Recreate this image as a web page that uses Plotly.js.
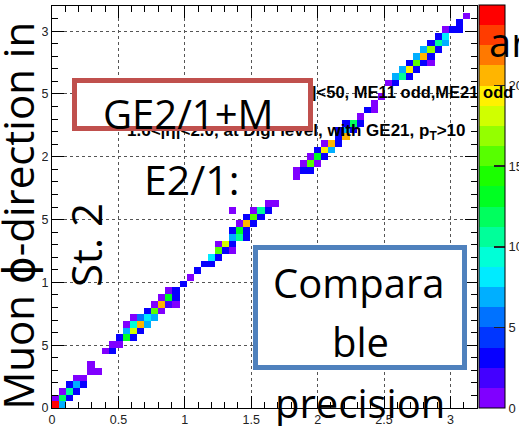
<!DOCTYPE html>
<html><head><meta charset="utf-8">
<script src="https://cdn.plot.ly/plotly-3.0.1.min.js"></script>
<style>html,body{margin:0;padding:0;background:#fff;overflow:hidden}#chart{width:519px;height:426px}</style>
</head><body><div id="chart"></div>
<script>
// 2D histogram: 60 x 60 bins over 0..3.2 in both phi directions
const phiMax = 3.2;
const nBins = 60;
// non-empty bins: x-bin index, y-bin index, entries
const cellX = [0,1,0,1,2,1,2,3,2,3,4,3,4,5,6,5,
  7,8,8,9,9,10,11,10,11,12,10,11,12,13,11,12,13,14,13,14,15,14,15,16,17,15,16,17,16,17,18,19,20,21,22,22,23,
  23,24,25,23,24,25,25,26,27,25,26,27,26,27,28,27,28,29,25,28,29,30,30,31,
  34,34,35,36,35,36,37,36,37,38,37,38,39,38,39,40,40,41,40,41,42,41,42,43,43,44,45,45,46,
  47,48,48,49,50,49,50,51,50,51,52,53,51,52,53,52,53,54,53,54,55,54,55,55,56,57,57,58];
const cellY = [0,0,1,1,1,2,2,2,3,3,3,4,4,5,5,6,
  8,8,9,9,10,10,10,11,11,11,12,12,12,12,13,13,13,13,14,14,14,15,15,15,15,16,16,16,17,17,18,19,20,21,21,22,22,
  23,23,23,24,24,24,25,25,25,26,26,26,27,27,27,28,28,28,29,29,29,29,30,30,
  34,35,35,35,36,36,36,37,37,37,38,38,38,39,39,39,40,40,41,41,41,42,42,42,43,44,44,45,46,
  48,48,49,49,49,50,50,50,51,51,51,51,52,52,52,53,53,53,54,54,54,55,55,56,56,56,57,58];
const cellCount = [25,7,1,12,3,1,11,3,3,7,3,1,1,1,1,1,
  1,3,1,1,3,13,3,7,18,3,1,9,21,7,1,6,8,7,3,16,1,1,21,2,1,1,13,3,1,3,3,1,3,3,3,8,3,
  16,3,1,1,18,3,7,10,3,3,13,3,1,21,3,3,15,3,1,1,10,3,1,1,
  1,1,3,3,1,16,1,1,13,3,3,19,7,1,21,3,3,21,3,7,3,3,12,3,1,3,1,1,1,
  1,3,7,10,3,7,19,3,3,16,3,1,7,21,3,7,17,3,3,10,7,3,8,1,3,3,3,1];
const countMax = 25;
const colorTicks = [0,5,10,15,20,25];
// 20-level ROOT rainbow palette, low to high
const paletteColors = ['#8000ff','#4300ff','#0700ff','#0036ff','#0072ff','#00afff','#00ebff','#00ffd7','#00ff9a','#00ff5e',
  '#00ff22','#1bff00','#57ff00','#94ff00','#d0ff00','#fff100','#ffb500','#ff7900','#ff3c00','#ff0000'];

const binWidth = phiMax / nBins;
const z = [];
for (let j = 0; j < nBins; j++) z.push(new Array(nBins).fill(null));
for (let k = 0; k < cellX.length; k++) z[cellY[k]][cellX[k]] = cellCount[k];
const colorscale = [];
paletteColors.forEach((c, k) => {
  colorscale.push([k / paletteColors.length, c]);
  colorscale.push([(k + 1) / paletteColors.length, c]);
});

// page geometry helpers (pixels -> paper fraction)
const L = 52, R = 477, T = 6, B = 408;
const px2x = p => (p - L) / (R - L);
const px2y = p => (B - p) / (B - T);

const trace = {
  type: 'heatmap', z: z, x0: binWidth / 2, dx: binWidth, y0: binWidth / 2, dy: binWidth,
  zmin: 0, zmax: countMax, colorscale: colorscale, hoverinfo: 'skip',
  colorbar: {
    thickness: 26, thicknessmode: 'pixels', len: 403, lenmode: 'pixels',
    x: px2x(479), xanchor: 'left', y: px2y(5), yanchor: 'top', xpad: 0, ypad: 0,
    outlinewidth: 1, outlinecolor: '#000',
    tickvals: colorTicks, ticks: 'inside', ticklen: 11, tickwidth: 1.5, tickcolor: '#222',
    tickfont: {family: 'Liberation Sans, Arial, sans-serif', size: 13, color: '#222'}
  }
};

const axisCommon = {
  range: [0, phiMax], dtick: 0.5, tick0: 0, ticks: 'inside', ticklen: 12, tickwidth: 1, tickcolor: '#000',
  showline: true, linecolor: '#000', linewidth: 1, mirror: 'ticks', automargin: false,
  showgrid: true, gridcolor: '#555', griddash: 'dot', gridwidth: 1, zeroline: false,
  tickfont: {family: 'Liberation Sans, Arial, sans-serif', size: 12.5, color: '#222'},
  minor: {dtick: 0.1, ticks: 'inside', ticklen: 6, tickcolor: '#000', showgrid: false},
  fixedrange: true
};

const ppt = 'Open Sans, DejaVu Sans, sans-serif';
const rootFont = 'Liberation Sans, Arial, sans-serif';
const annotations = [
  {text: '<b>|&lt;50, ME11 odd,ME21 odd</b>', x: px2x(310), y: px2y(92), xanchor: 'left', yanchor: 'middle',
   font: {family: rootFont, size: 16.5, color: '#000'}},
  {text: '<b>1.6&lt;|η|&lt;2.0, at Digi level, with GE21, p<sub>T</sub>&gt;10</b>', x: px2x(125), y: px2y(132), xanchor: 'left', yanchor: 'middle',
   font: {family: rootFont, size: 17, color: '#000'}},
  // red box
  {text: ' ', x: px2x(72), y: px2y(78), xanchor: 'left', yanchor: 'top', width: 231, height: 43,
   bgcolor: '#fff', bordercolor: '#c0504d', borderwidth: 5, borderpad: 0},
  {text: 'GE2/1+M', x: px2x(188), y: px2y(113.5), xanchor: 'center', yanchor: 'middle', font: {family: ppt, size: 40, color: '#000'}},
  {text: 'E2/1:', x: px2x(191), y: px2y(179), xanchor: 'center', yanchor: 'middle', font: {family: ppt, size: 41, color: '#000'}},
  // blue box
  {text: ' ', x: px2x(253), y: px2y(245), xanchor: 'left', yanchor: 'top', width: 204, height: 115,
   bgcolor: '#fff', bordercolor: '#4f81bd', borderwidth: 5, borderpad: 0},
  {text: 'Compara', x: px2x(359), y: px2y(282.5), xanchor: 'center', yanchor: 'middle', font: {family: ppt, size: 40, color: '#000'}},
  {text: 'ble', x: px2x(360), y: px2y(341), xanchor: 'center', yanchor: 'middle', font: {family: ppt, size: 40, color: '#000'}},
  {text: 'precision', x: px2x(360), y: px2y(402), xanchor: 'center', yanchor: 'middle', font: {family: ppt, size: 40, color: '#000'}},
  // y title (two lines)
  {text: 'Muon ϕ-direction in', x: px2x(17.5), y: px2y(216), xanchor: 'center', yanchor: 'middle', textangle: -90,
   font: {family: ppt, size: 42, color: '#000'}},
  {text: 'St. 2', x: px2x(85), y: px2y(245), xanchor: 'center', yanchor: 'middle', textangle: -90,
   font: {family: ppt, size: 42, color: '#000'}},
  {text: 'ar', x: px2x(487), y: px2y(41), xanchor: 'left', yanchor: 'middle', font: {family: ppt, size: 40, color: '#000'}}
];
annotations.forEach(a => { a.xref = 'paper'; a.yref = 'paper'; a.showarrow = false; });

const layout = {
  width: 519, height: 426, margin: {l: L, r: 519 - R, t: T, b: 426 - B, pad: 0, autoexpand: false},
  paper_bgcolor: '#fff', plot_bgcolor: '#fff', showlegend: false,
  xaxis: Object.assign({}, axisCommon),
  yaxis: Object.assign({}, axisCommon),
  shapes: [
    {type: 'rect', xref: 'paper', yref: 'paper', x0: px2x(-5), x1: px2x(42), y0: px2y(431), y1: px2y(-5),
     fillcolor: '#fff', line: {width: 0}, layer: 'above'}
  ],
  annotations: annotations
};

Plotly.newPlot('chart', [trace], layout, {displayModeBar: false, staticPlot: true});
</script>
</body></html>
